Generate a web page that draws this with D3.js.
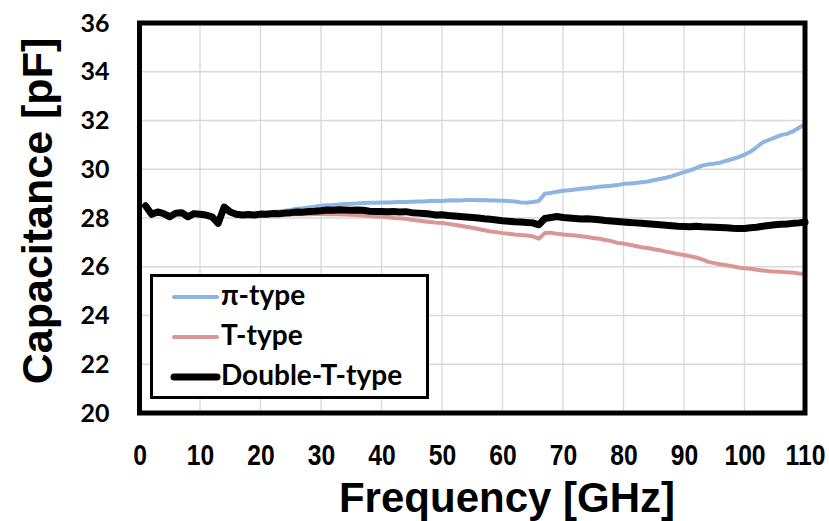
<!DOCTYPE html>
<html><head><meta charset="utf-8">
<script src="https://cdn.jsdelivr.net/npm/d3@7"></script>
<style>html,body{margin:0;padding:0;background:#fff;}svg{display:block;}</style>
</head><body>
<svg id="chart" width="829" height="521"></svg>
<script>
// ---- data ----
const freq = d3.range(1, 111); // GHz, 1..110 sample positions
const seriesNames = ["π-type", "T-type", "Double-T-type"];
const capPi = [28.45,28.2,28.22,28.15,28.1,28.15,28.18,28.08,28.15,28.12,28.1,28.05,27.85,28.35,28.2,28.15,28.14,28.15,28.17,28.2,
28.22,28.25,28.27,28.3,28.33,28.38,28.4,28.43,28.46,28.5,
28.52,28.53,28.55,28.57,28.58,28.6,28.62,28.63,28.63,28.64,
28.64,28.65,28.66,28.66,28.67,28.68,28.68,28.7,28.71,28.7,
28.72,28.73,28.72,28.74,28.74,28.73,28.74,28.72,28.72,28.71,
28.7,28.68,28.64,28.63,28.66,28.7,29.0,29.03,29.08,29.12,
29.14,29.17,29.2,29.22,29.25,29.28,29.3,29.32,29.35,29.4,
29.42,29.44,29.47,29.5,29.55,29.6,29.65,29.72,29.8,29.88,
29.95,30.05,30.15,30.2,30.23,30.27,30.35,30.42,30.5,30.6,
30.72,30.9,31.1,31.2,31.3,31.4,31.45,31.55,31.7,31.85];
const capT = [28.45,28.15,28.22,28.15,28.08,28.15,28.18,28.05,28.15,28.12,28.1,28.05,27.85,28.3,28.2,28.14,28.12,28.12,28.1,28.1,
28.1,28.12,28.12,28.13,28.14,28.15,28.15,28.15,28.16,28.16,
28.15,28.16,28.15,28.14,28.13,28.12,28.1,28.08,28.06,28.05,
28.03,28.0,27.99,27.97,27.93,27.9,27.87,27.84,27.81,27.8,
27.76,27.72,27.68,27.64,27.6,27.55,27.5,27.45,27.42,27.38,
27.35,27.32,27.3,27.28,27.25,27.15,27.38,27.4,27.35,27.32,
27.3,27.28,27.25,27.22,27.18,27.15,27.1,27.05,26.98,26.95,
26.9,26.85,26.8,26.77,26.72,26.68,26.62,26.58,26.52,26.48,
26.43,26.38,26.3,26.2,26.15,26.1,26.06,26.02,25.97,25.94,
25.92,25.88,25.85,25.82,25.8,25.79,25.77,25.76,25.72,25.7];
const capDoubleT = [28.5,28.15,28.25,28.18,28.05,28.2,28.22,28.05,28.18,28.15,28.12,28.05,27.78,28.45,28.25,28.15,28.12,28.14,28.12,28.16,
28.15,28.18,28.17,28.2,28.22,28.25,28.24,28.27,28.28,28.3,
28.33,28.32,28.34,28.33,28.32,28.33,28.32,28.28,28.27,28.27,
28.26,28.27,28.25,28.26,28.22,28.2,28.18,28.16,28.12,28.13,
28.1,28.08,28.06,28.04,28.02,28.0,27.97,27.95,27.92,27.89,
27.87,27.85,27.84,27.82,27.8,27.72,27.98,28.02,28.06,28.02,
28.0,27.98,27.96,27.97,27.95,27.93,27.9,27.88,27.86,27.84,
27.82,27.8,27.78,27.76,27.74,27.72,27.7,27.68,27.66,27.65,
27.64,27.66,27.64,27.63,27.62,27.61,27.6,27.58,27.57,27.57,
27.6,27.62,27.66,27.69,27.72,27.74,27.75,27.78,27.8,27.83];
const xTicks = [0,10,20,30,40,50,60,70,80,90,100,110];
const yTicks = [20,22,24,26,28,30,32,34,36];
const xLabel = "Frequency [GHz]";
const yLabel = "Capacitance [pF]";
const colors = ["#8DB4E2", "#DA9694", "#000000"];
const widths = [4, 4, 7];

// ---- layout ----
const svg = d3.select("#chart");
const L = 139.5, R = 805, T = 23, B = 413;
const x = d3.scaleLinear().domain([0, 110]).range([L, R]);
const y = d3.scaleLinear().domain([20, 36]).range([B, T]);

// grid
const grid = svg.append("g").attr("stroke", "#d9d9d9").attr("stroke-width", 1.3);
grid.selectAll("line.v").data(xTicks.slice(1, -1)).join("line")
  .attr("x1", d => x(d)).attr("x2", d => x(d)).attr("y1", T).attr("y2", B);
grid.selectAll("line.h").data(yTicks.slice(1, -1)).join("line")
  .attr("y1", d => y(d)).attr("y2", d => y(d)).attr("x1", L).attr("x2", R);

// series
const all = [capPi, capT, capDoubleT];
const line = d3.line().x((d, i) => x(freq[i])).y(d => y(d)).curve(d3.curveLinear);
all.forEach((vals, k) => {
  svg.append("path").datum(vals).attr("d", line)
    .attr("fill", "none").attr("stroke", colors[k]).attr("stroke-width", widths[k])
    .attr("stroke-linejoin", "round").attr("stroke-linecap", "round");
});

// frame
svg.append("rect").attr("x", L).attr("y", T).attr("width", R - L).attr("height", B - T)
  .attr("fill", "none").attr("stroke", "#000").attr("stroke-width", 5);

// axes (labels only, using d3 axes)
const xAxis = svg.append("g").attr("transform", `translate(0,${B})`)
  .call(d3.axisBottom(x).tickValues(xTicks).tickSize(0).tickPadding(31).tickFormat(d3.format("d")));
xAxis.select(".domain").remove();
xAxis.selectAll("text").attr("font-family", "'Liberation Sans', Arial, sans-serif")
  .attr("font-weight", "bold").attr("font-size", 29).attr("fill", "#000")
  .attr("transform", "scale(0.85,1)");

const yAxis = svg.append("g").attr("transform", `translate(${L},0)`)
  .call(d3.axisLeft(y).tickValues(yTicks).tickSize(0).tickPadding(30).tickFormat(d3.format("d")));
yAxis.select(".domain").remove();
yAxis.selectAll("text").attr("font-family", "Lato, 'Open Sans', sans-serif")
  .attr("font-weight", "bold").attr("font-size", 25).attr("fill", "#000");

// axis titles
svg.append("text").attr("x", 507).attr("y", 512).attr("text-anchor", "middle")
  .attr("font-family", "'Liberation Sans', Arial, sans-serif").attr("font-weight", "bold")
  .attr("font-size", 42).text(xLabel);
svg.append("text").attr("transform", `translate(52,211) rotate(-90)`).attr("text-anchor", "middle")
  .attr("font-family", "'Liberation Sans', Arial, sans-serif").attr("font-weight", "bold")
  .attr("font-size", 43).text(yLabel);

// legend
const lg = svg.append("g");
lg.append("rect").attr("x", 151.5).attr("y", 275.5).attr("width", 276).attr("height", 122)
  .attr("fill", "#fff").attr("stroke", "#000").attr("stroke-width", 3);
seriesNames.forEach((name, k) => {
  const yy = 297 + k * 40;
  lg.append("line").attr("x1", 174).attr("x2", 217).attr("y1", yy).attr("y2", yy)
    .attr("stroke", colors[k]).attr("stroke-width", widths[k]).attr("stroke-linecap", "round");
  lg.append("text").attr("x", 221).attr("y", yy + 8)
    .attr("font-family", "Lato, 'Open Sans', sans-serif").attr("font-weight", "bold")
    .attr("font-size", 28).text(name);
});
</script>
</body></html>
